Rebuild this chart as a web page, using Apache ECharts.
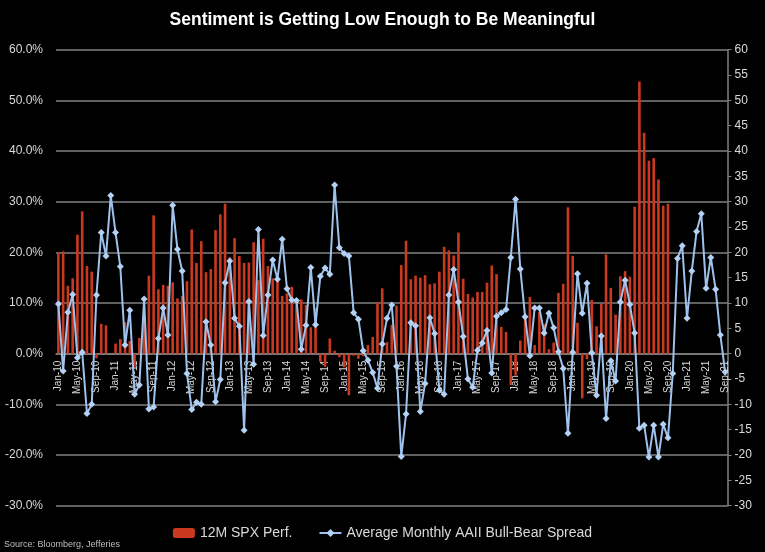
<!DOCTYPE html>
<html>
<head>
<meta charset="utf-8">
<script src="https://cdn.jsdelivr.net/npm/echarts@6/dist/echarts.min.js"></script>
<style>
html,body{margin:0;padding:0;background:#000;}
#c{width:765px;height:552px;}
</style>
</head>
<body>
<div id="c"></div>
<script>
// Categories: month labels Jan-10 .. Sep-21
var monthNames = ['Jan','Feb','Mar','Apr','May','Jun','Jul','Aug','Sep','Oct','Nov','Dec'];
var years = ['10','11','12','13','14','15','16','17','18','19','20','21'];
var lastMonthIndex2021 = 8; // Sep-21

// 12M SPX Perf. (%), Jan-10 .. Sep-20
var spx2010 = [19.8, 20.2, 13.4, 14.9, 23.5, 28.1, 17.3, 16.2, -0.9, 5.9, 5.6, 0.0];
var spx2011 = [2.0, 2.9, 6.2, 2.5, -2.6, 3.1, 6.7, 15.4, 27.3, 12.7, 13.6, 13.4];
var spx2012 = [14.1, 10.9, 11.4, 14.3, 24.5, 17.9, 22.2, 16.1, 16.7, 24.4, 27.5, 29.6];
var spx2013 = [19.0, 22.8, 19.3, 17.9, 18.0, 22.0, 14.5, 22.7, 17.3, 14.9, 14.5, 11.4];
var spx2014 = [11.9, 13.2, 10.4, 10.7, 9.6, 5.2, 9.0, -1.6, -2.6, 3.0, 0.6, -0.7];
var spx2015 = [-2.7, -8.2, -0.4, -1.0, -0.5, 1.7, 3.3, 10.1, 12.9, 2.3, 5.7, 9.5];
var spx2016 = [17.5, 22.3, 14.7, 15.4, 15.0, 15.5, 13.7, 13.9, 16.2, 21.1, 20.4, 19.4];
var spx2017 = [23.9, 14.8, 11.8, 11.1, 12.2, 12.2, 14.0, 17.4, 15.7, 5.3, 4.3, -6.2];
var spx2018 = [-4.2, 2.6, 7.3, 11.2, 1.7, 8.2, 5.8, 0.9, 2.2, 12.0, 13.8, 28.9];
var spx2019 = [19.3, 6.1, -8.8, -1.1, 10.6, 5.4, 9.8, 19.6, 13.0, 7.7, 15.3, 16.3];
var spx2020 = [15.2, 29.0, 53.7, 43.6, 38.1, 38.6, 34.4, 29.2, 29.6];

// Average Monthly AAII Bull-Bear Spread, Jan-10 .. Sep-21
var aaii2010 = [9.8, -3.4, 8.2, 11.7, -0.8, 0.3, -11.8, -10.0, 11.6, 23.9, 19.3, 31.2];
var aaii2011 = [23.9, 17.2, 1.7, 8.6, -8.0, -6.2, 10.8, -10.9, -10.5, 3.0, 9.0, 3.7];
var aaii2012 = [29.3, 20.6, 16.3, -3.9, -11.0, -9.6, -10.0, 6.3, 1.7, -9.5, -5.1, 14.0];
var aaii2013 = [18.3, 7.0, 5.4, -15.1, 10.3, -2.1, 24.5, 3.6, 11.6, 18.5, 14.7, 22.6];
var aaii2014 = [12.8, 10.6, 10.5, 0.9, 5.6, 17.0, 5.7, 15.3, 16.9, 15.7, 33.3, 20.9];
var aaii2015 = [19.8, 19.3, 8.1, 6.8, 0.6, -1.3, -3.7, -6.8, 1.9, 7.0, 9.6, -2.5];
var aaii2016 = [-20.3, -11.9, 6.1, 5.5, -11.4, -5.9, 7.1, 4.0, -7.2, -8.0, 11.6, 16.6];
var aaii2017 = [10.2, 3.4, -5.0, -6.6, 0.7, 2.1, 4.6, -3.8, 7.4, 8.1, 8.7, 19.0];
var aaii2018 = [30.5, 16.7, 7.3, -0.4, 9.0, 9.0, 4.1, 8.0, 5.1, 0.4, -2.9, -15.7];
var aaii2019 = [0.3, 15.8, 8.0, 13.9, 0.2, -8.2, 3.5, -12.8, -1.4, -5.4, 10.2, 14.5];
var aaii2020 = [9.7, 4.1, -14.7, -14.1, -20.4, -14.1, -20.4, -13.9, -16.6, -3.9, 18.8, 21.3];
var aaii2021 = [7.0, 16.3, 24.1, 27.6, 12.9, 19.0, 12.7, 3.7, -3.6];

var categories = [];
for (var y = 0; y < years.length; y++) {
  var lastM = (y === years.length - 1) ? lastMonthIndex2021 : 11;
  for (var m = 0; m <= lastM; m++) categories.push(monthNames[m] + '-' + years[y]);
}
var spxValues = [].concat(spx2010, spx2011, spx2012, spx2013, spx2014, spx2015, spx2016, spx2017, spx2018, spx2019, spx2020);
while (spxValues.length < categories.length) spxValues.push(null);
var aaiiValues = [].concat(aaii2010, aaii2011, aaii2012, aaii2013, aaii2014, aaii2015, aaii2016, aaii2017, aaii2018, aaii2019, aaii2020, aaii2021);

var chart = echarts.init(document.getElementById('c'), null, {renderer: 'canvas'});
var FONT = 'Liberation Sans, Arial, sans-serif';
chart.setOption({
  backgroundColor: '#000',
  animation: false,
  title: {
    text: 'Sentiment is Getting Low Enough to Be Meaningful',
    left: 'center',
    top: 6,
    textStyle: {color: '#ffffff', fontSize: 17.5, fontWeight: 'bold', fontFamily: FONT}
  },
  legend: {
    left: 'center',
    top: 521,
    itemGap: 26,
    itemWidth: 22,
    itemHeight: 10,
    textStyle: {color: '#d9d9d9', fontSize: 14, fontFamily: FONT},
    data: ['12M SPX Perf.', 'Average Monthly AAII Bull-Bear Spread']
  },
  graphic: [{
    type: 'text',
    left: 4,
    top: 540,
    style: {text: 'Source: Bloomberg, Jefferies', fill: '#bfbfbf', font: '9px Liberation Sans, Arial, sans-serif'}
  }],
  grid: {left: 56, right: 37.5, top: 49.7, bottom: 46.3, containLabel: false},
  xAxis: {
    type: 'category',
    data: categories,
    boundaryGap: true,
    position: 'bottom',
    offset: 0,
    z: 1,
    axisLine: {show: true, onZero: false, lineStyle: {color: '#808080', width: 1.5}},
    axisTick: {show: false},
    axisLabel: {color: '#d9d9d9', fontSize: 10, fontFamily: FONT, rotate: 90, interval: 3, margin: 7}
  },
  yAxis: [{
    type: 'value',
    min: -30, max: 60, interval: 10,
    axisLine: {show: false},
    axisTick: {show: false},
    splitLine: {show: true, lineStyle: {color: '#808080', width: 1.5}},
    axisLabel: {color: '#d9d9d9', fontSize: 12, fontFamily: FONT, margin: 13,
      formatter: function (v) { return v.toFixed(1) + '%'; }}
  }, {
    type: 'value',
    position: 'right',
    min: -30, max: 60, interval: 5,
    axisLine: {show: true, lineStyle: {color: '#808080', width: 1.5}},
    axisTick: {show: true, length: 4, lineStyle: {color: '#808080'}},
    splitLine: {show: false},
    axisLabel: {color: '#d9d9d9', fontSize: 12, fontFamily: FONT, margin: 7}
  }],
  series: [{
    name: '12M SPX Perf.',
    type: 'bar',
    yAxisIndex: 0,
    data: spxValues,
    barWidth: '55%',
    z: 2,
    itemStyle: {color: '#c8391f'}
  }, {
    name: 'Average Monthly AAII Bull-Bear Spread',
    type: 'line',
    yAxisIndex: 1,
    data: aaiiValues,
    symbol: 'diamond',
    symbolSize: 7,
    showAllSymbol: true,
    z: 3,
    lineStyle: {color: '#9fc2ec', width: 2},
    itemStyle: {color: '#b3d1f5'}
  }]
});
// Place the category axis on the value axis' zero line, using the library's own scale
var zeroY = chart.convertToPixel({yAxisIndex: 0}, 0);
var bottomY = chart.convertToPixel({yAxisIndex: 0}, -30);
chart.setOption({xAxis: {offset: zeroY - bottomY}});
</script>
</body>
</html>
